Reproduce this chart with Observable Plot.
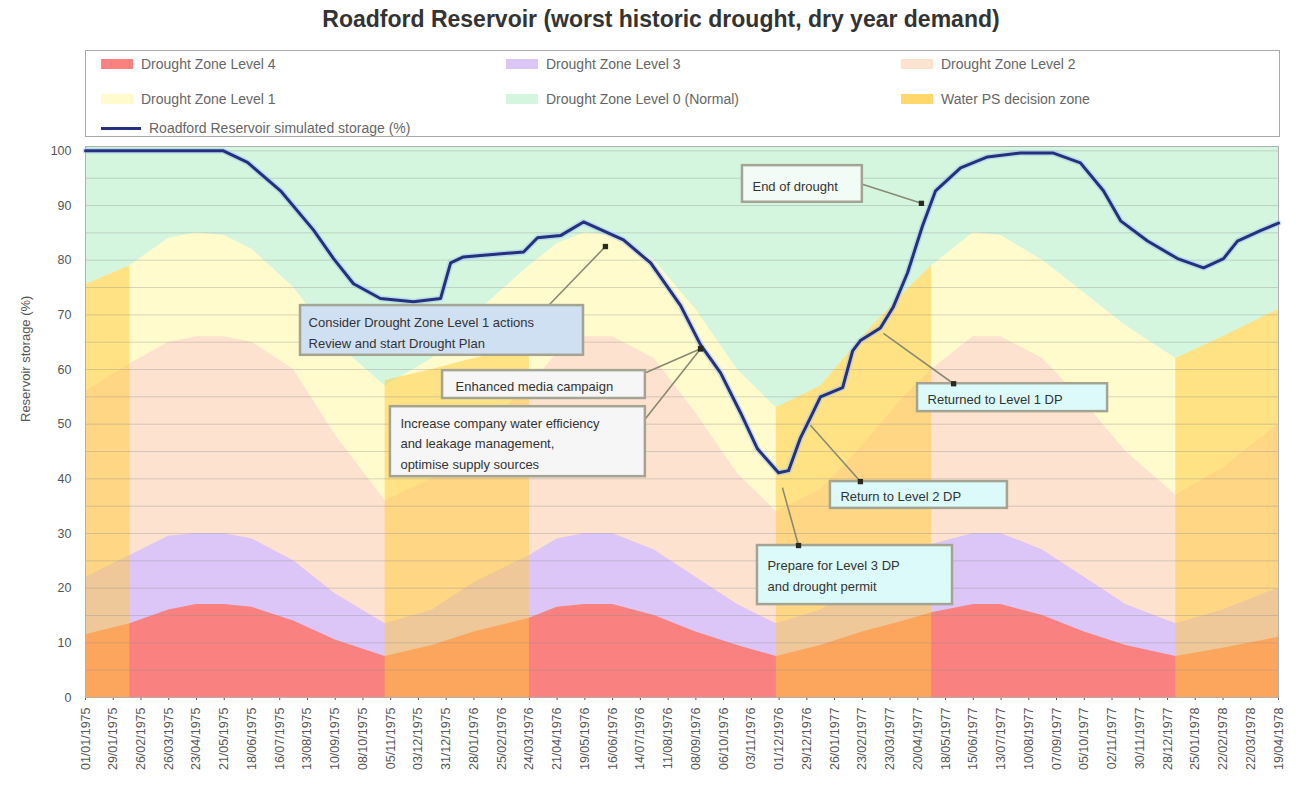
<!DOCTYPE html>
<html><head><meta charset="utf-8">
<script src="https://cdn.jsdelivr.net/npm/d3@7"></script>
<script src="https://cdn.jsdelivr.net/npm/@observablehq/plot@0.6"></script>
<style>
body{margin:0;background:#fff;font-family:"Liberation Sans",Arial,sans-serif;}
#wrap{position:relative;width:1296px;height:803px;overflow:hidden;}
#title{position:absolute;left:0;top:6px;width:1322px;text-align:center;font-weight:bold;font-size:23px;color:#333;}
#legend{position:absolute;left:85px;top:50px;width:1195px;height:87px;border:1px solid #aaa;box-sizing:border-box;background:#fff;}
.li{position:absolute;font-size:14px;color:#666;display:flex;align-items:center;height:18px;white-space:nowrap;}
.sw{width:32px;height:10px;margin-right:8px;}
.ln{width:40px;height:3px;margin-right:8px;}
#chart{position:absolute;left:0;top:140px;}
</style></head>
<body><div id="wrap"><div id="title"></div><div id="legend"></div><div id="chart"></div></div>
<script>
// ---------- data ----------
const titleText = "Roadford Reservoir (worst historic drought, dry year demand)";
const yLabel = "Reservoir storage (%)";
const tickLabels = ["01/01/1975","29/01/1975","26/02/1975","26/03/1975","23/04/1975","21/05/1975","18/06/1975","16/07/1975","13/08/1975","10/09/1975","08/10/1975","05/11/1975","03/12/1975","31/12/1975","28/01/1976","25/02/1976","24/03/1976","21/04/1976","19/05/1976","16/06/1976","14/07/1976","11/08/1976","08/09/1976","06/10/1976","03/11/1976","01/12/1976","29/12/1976","26/01/1977","23/02/1977","23/03/1977","20/04/1977","18/05/1977","15/06/1977","13/07/1977","10/08/1977","07/09/1977","05/10/1977","02/11/1977","30/11/1977","28/12/1977","25/01/1978","22/02/1978","22/03/1978","19/04/1978"];
const yTicks = [0,10,20,30,40,50,60,70,80,90,100];
const gridValues = [5,10,15,20,25,30,35,40,45,50,55,60,65,70,75,80,85,90,95,100];

// drought zone curves (x in tick positions)
const zoneX  = [0,1.6,3,4,5,6,7.5,9,10.8,12.5,14,16,17,18,19,20.5,22,23.5,24.9,26.5,28,29.5,30.5,32,33,34.5,36,37.5,39.3,41,43];
const level1 = [75.5,79,84,85,84.5,82,75,65,57,62,70,79,83,85,84.5,80,71,60,53,57,66,74,79,85,84.5,80,74,68,62,66,71];
const level2 = [56,61,65,66,66,65,60,48,36,40,48,57,63,66,66,62,52,41,34,38,46,55,60,66,66,62,54,45,37,42,50];
const level3 = [22,26,29.5,30,30,29,25,19,13.5,16,21,26,29,30,30,27,22,17,13.5,16,21,25,28,30,30,27,22,17,13.5,16,20];
const level4 = [11.5,13.5,16,17,17,16.5,14,10.5,7.5,9.5,12,14.5,16.5,17,17,15,12,9.5,7.5,9.5,12,14,15.5,17,17,15,12,9.5,7.5,9,11];

// Water PS decision zone periods (tick positions) and their upper edge (%)
const bandSegX   = [[0,1.6],[10.8,12.5,14,16],[24.9,26.5,28,29.5,30.5],[39.3,41,43]];
const bandSegTop = [[75.5,79],[58,60,62,64],[53,57,66,74,79],[62,66,71]];

// simulated storage
const storageX = [0,4.97,5.84,7.03,8.22,8.94,9.66,10.63,11.82,12.80,13.16,13.62,15.79,16.29,17.12,17.95,19.39,20.37,21.45,22.17,22.89,23.61,24.22,24.98,25.34,25.77,26.13,26.49,27.29,27.65,27.93,28.65,29.12,29.63,30.17,30.64,31.54,32.51,33.70,34.89,35.86,36.69,37.31,38.28,39.36,40.30,41.02,41.52,42.35,43];
const storagePct = [100,100,97.9,92.7,85.5,80.3,75.7,73.0,72.4,73.0,79.5,80.6,81.5,84.1,84.5,87.0,83.7,79.5,71.7,64.5,59.4,52.1,45.5,41.1,41.5,47.5,51.2,55.0,56.7,63.4,65.3,67.6,71.5,77.7,86.3,92.7,96.9,98.9,99.6,99.6,97.8,92.7,87.2,83.5,80.3,78.6,80.3,83.5,85.4,86.8];

// legend
const legendLabels = ["Drought Zone Level 4","Drought Zone Level 3","Drought Zone Level 2","Drought Zone Level 1","Drought Zone Level 0 (Normal)","Water PS decision zone","Roadford Reservoir simulated storage (%)"];

// annotations
const noteText = [
  "Consider Drought Zone Level 1 actions\nReview and start Drought Plan",
  "Enhanced media campaign",
  "Increase company water efficiency\nand leakage management,\noptimise supply sources",
  "End of drought",
  "Returned to Level 1 DP",
  "Return to Level 2 DP",
  "Prepare for Level 3 DP\nand drought permit"
];
// ---------- layout / style ----------
const C = {l0:"#d4f6df", l1:"#fffbcc", l2:"#fde2cf", l3:"#dcc6f7", l4:"#f98180", band:"#ffc93a", line:"#25307e"};
const noteBoxes = [ // x1,x2 (tick pos), y1,y2 (%), fill, text x, text y
  {x1:7.75,x2:17.95,y1:62.6,y2:71.7,fill:"#cfe0f3",tx:8.04,ty:67.1},
  {x1:12.87,x2:20.18,y1:54.7,y2:59.8,fill:"#f6f6f6",tx:13.34,ty:57.3},
  {x1:10.99,x2:20.18,y1:40.4,y2:53.2,fill:"#f6f6f6",tx:11.35,ty:46.8},
  {x1:23.68,x2:28.0,y1:90.6,y2:97.3,fill:"#f3fbf6",tx:24.04,ty:93.9},
  {x1:29.99,x2:36.84,y1:52.3,y2:57.4,fill:"#dcfafa",tx:30.35,ty:54.9},
  {x1:26.85,x2:33.23,y1:34.6,y2:39.5,fill:"#dcfafa",tx:27.21,ty:37.1},
  {x1:24.22,x2:31.25,y1:17.0,y2:27.8,fill:"#dcfafa",tx:24.58,ty:22.6}
];
const leaders = [
  {x1:16.69,y1:71.7,x2:18.74,y2:82.5},
  {x1:20.0,y1:59.0,x2:22.17,y2:63.8},
  {x1:20.18,y1:51.0,x2:22.17,y2:63.8},
  {x1:28.0,y1:93.9,x2:30.13,y2:90.4},
  {x1:28.76,y1:66.6,x2:31.29,y2:57.4},
  {x1:26.13,y1:49.8,x2:27.93,y2:39.5},
  {x1:25.12,y1:38.4,x2:25.70,y2:27.8}
];

// ---------- build ----------
document.getElementById("title").textContent = titleText;
const lg = document.getElementById("legend");
const legendColors = [C.l4, C.l3, C.l2, C.l1, C.l0, C.band];
const legendPos = [[15,4],[420,4],[815,4],[15,39],[420,39],[815,39],[15,68]];
legendLabels.forEach((t,i)=>{
  const d = document.createElement("div");
  d.className = "li";
  d.style.left = legendPos[i][0]+"px"; d.style.top = legendPos[i][1]+"px";
  const s = document.createElement("span");
  if (i < 6) { s.className = "sw"; s.style.background = legendColors[i]; if (i===5) s.style.opacity = 0.75; }
  else { s.className = "ln"; s.style.background = C.line; }
  d.appendChild(s);
  d.appendChild(document.createTextNode(t));
  lg.appendChild(d);
});

const zones = zoneX.map((x,i)=>({x, l1:level1[i], l2:level2[i], l3:level3[i], l4:level4[i]}));
const band = bandSegX.flatMap((xs,k)=>xs.map((x,j)=>({x, y:bandSegTop[k][j], seg:k})));
const storage = storageX.map((x,i)=>({x, y:storagePct[i]}));
const notes = noteBoxes.map((b,i)=>({...b, text:noteText[i]}));

const marks = [
  Plot.frame({fill: C.l0}),
  Plot.areaY(zones, {x:"x", y:"l1", fill:C.l1}),
  Plot.areaY(zones, {x:"x", y:"l2", fill:C.l2}),
  Plot.areaY(zones, {x:"x", y:"l3", fill:C.l3}),
  Plot.areaY(zones, {x:"x", y:"l4", fill:C.l4}),
  Plot.areaY(band, {x:"x", y:"y", z:"seg", fill:C.band, fillOpacity:0.5}),
  Plot.ruleY(gridValues, {stroke:"#8f8f8f", strokeOpacity:0.35}),
  Plot.frame({stroke:"#b0b0b0"}),
  Plot.line(storage, {x:"x", y:"y", stroke:"#9fc3ee", strokeWidth:6, strokeOpacity:0.5}),
  Plot.line(storage, {x:"x", y:"y", stroke:C.line, strokeWidth:3}),
  Plot.link(leaders, {x1:"x1", y1:"y1", x2:"x2", y2:"y2", stroke:"#8a8a74", strokeWidth:1.6}),
  ...notes.map(b => Plot.rect([b], {x1:"x1", x2:"x2", y1:"y1", y2:"y2", fill:b.fill, stroke:"#a4a494", strokeWidth:2.5})),
  Plot.text(notes, {x:"tx", y:"ty", text:"text", textAnchor:"start", lineAnchor:"middle", lineHeight:1.6, fontSize:13, fill:"#333"}),
  Plot.dot(leaders, {x:"x2", y:"y2", r:3, symbol:"square", fill:"#2a2a20"}),
  Plot.text([yLabel], {frameAnchor:"left", dx:-60, rotate:-90, fontSize:13, fill:"#555"})
];

const chart = Plot.plot({
  width: 1296, height: 662,
  marginLeft: 85, marginRight: 18, marginTop: 6, marginBottom: 105,
  style: {fontFamily: '"Liberation Sans", Arial, sans-serif', fontSize: "12.5px", color: "#555", background: "transparent"},
  x: {domain:[0,43], ticks: d3.range(tickLabels.length), tickFormat: i => tickLabels[i], tickRotate: -90, tickSize: 3, tickPadding: 7, label: null},
  y: {domain:[0,100.8], ticks: yTicks, tickSize: 0, tickPadding: 14, label: null},
  marks
});
document.getElementById("chart").appendChild(chart);
</script></body></html>
